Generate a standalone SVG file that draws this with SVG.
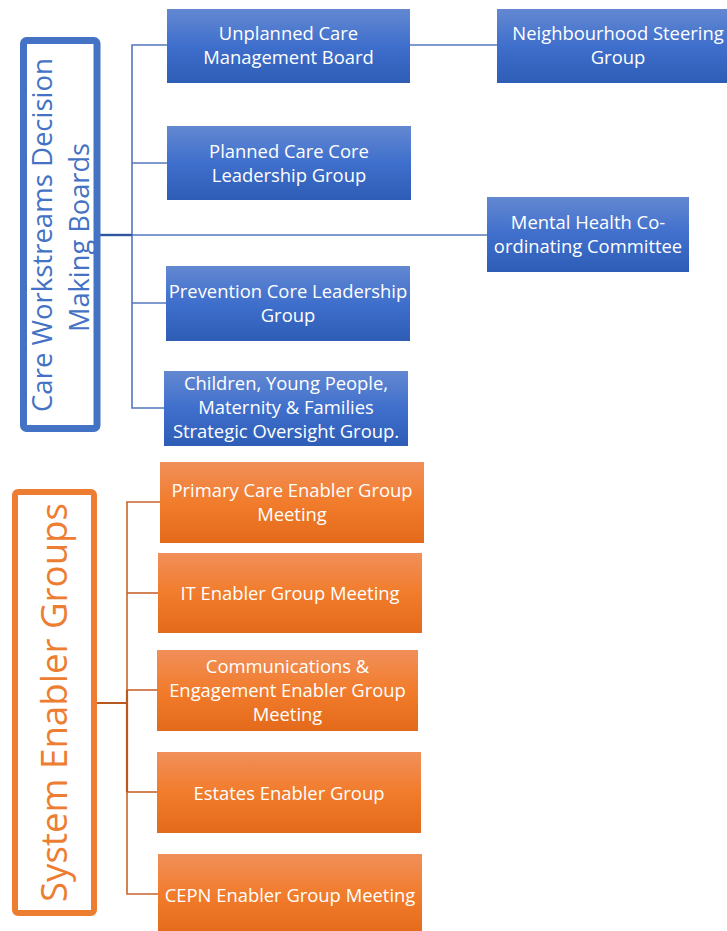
<svg xmlns="http://www.w3.org/2000/svg" width="727" height="931" viewBox="0 0 727 931">
<defs>
<linearGradient id="gb" x1="0" y1="0" x2="0" y2="1">
<stop offset="0" stop-color="#6388d1"/>
<stop offset="0.5" stop-color="#3f6fcc"/>
<stop offset="1" stop-color="#2e5db6"/>
</linearGradient>
<linearGradient id="go" x1="0" y1="0" x2="0" y2="1">
<stop offset="0" stop-color="#f18f5a"/>
<stop offset="0.5" stop-color="#f17c2c"/>
<stop offset="1" stop-color="#e46a1b"/>
</linearGradient>
<style>
.bb{fill:url(#gb);}
.ob{fill:url(#go);}
.t{font-family:"Open Sans","Noto Sans","DejaVu Sans",sans-serif;font-size:18.4px;fill:#ffffff;text-anchor:middle;}
.bl{fill:none;stroke:#5477bf;stroke-width:1.6;}
.ol{fill:none;stroke:#c8652b;stroke-width:1.6;}
.big{font-family:"Open Sans","Noto Sans","DejaVu Sans",sans-serif;text-anchor:middle;}
</style>
</defs>
<rect width="727" height="931" fill="#ffffff"/>

<g id="connectors">
<path class="bl" d="M100 235 H487"/>
<path class="bl" d="M132 235 V45 H167"/>
<path class="bl" d="M132 163 H167"/>
<path class="bl" d="M132 235 V408 H164"/>
<path class="bl" d="M132 303 H166"/>
<path class="bl" d="M410 45 H497"/>
<path d="M100 235 H132" fill="none" stroke="#2f55a0" stroke-width="2.4"/>
<path class="ol" d="M97 703 H127"/>
<path class="ol" d="M127 703 V502 H160"/>
<path class="ol" d="M127 593 H158"/>
<path class="ol" d="M127 690 H157"/>
<path class="ol" d="M127 703 V894 H158"/>
<path class="ol" d="M127 792 H157"/>
<path d="M97 703 H127 M127 690 V792" fill="none" stroke="#b85a20" stroke-width="2.2"/>
</g>

<g id="care-workstreams">
<rect x="23.5" y="40.5" width="73.5" height="388" rx="3" fill="#ffffff" stroke="#4472c4" stroke-width="7"/>
<text class="big" transform="translate(52,235) rotate(-90)" font-size="28" fill="#4472c4" textLength="354" lengthAdjust="spacingAndGlyphs">Care Workstreams Decision</text>
<text class="big" transform="translate(89,237.5) rotate(-90)" font-size="28" fill="#4472c4" textLength="189" lengthAdjust="spacingAndGlyphs">Making Boards</text>
</g>

<g id="unplanned-care">
<rect class="bb" x="167" y="9" width="243" height="74"/>
<text class="t" x="288.5" y="40">Unplanned Care</text>
<text class="t" x="288.5" y="64">Management Board</text>
</g>

<g id="neighbourhood">
<rect class="bb" x="497" y="9" width="243" height="74"/>
<text class="t" x="618" y="40">Neighbourhood Steering</text>
<text class="t" x="618" y="64">Group</text>
</g>

<g id="planned-care">
<rect class="bb" x="167" y="126" width="244" height="74"/>
<text class="t" x="289" y="157.5">Planned Care Core</text>
<text class="t" x="289" y="181.5">Leadership Group</text>
</g>

<g id="mental-health">
<rect class="bb" x="487" y="197" width="202" height="75"/>
<text class="t" x="588" y="229">Mental Health Co-</text>
<text class="t" x="588" y="253">ordinating Committee</text>
</g>

<g id="prevention">
<rect class="bb" x="166" y="266" width="244" height="75"/>
<text class="t" x="288" y="298">Prevention Core Leadership</text>
<text class="t" x="288" y="322">Group</text>
</g>

<g id="children">
<rect class="bb" x="164" y="371" width="244" height="75"/>
<text class="t" x="286" y="390">Children, Young People,</text>
<text class="t" x="286" y="414">Maternity &amp; Families</text>
<text class="t" x="286" y="437.5">Strategic Oversight Group.</text>
</g>

<g id="system-enabler">
<rect x="15" y="492" width="79" height="421" rx="3" fill="#ffffff" stroke="#ed7d31" stroke-width="6"/>
<text class="big" transform="translate(67,702.5) rotate(-90)" font-size="37" fill="#ed7d31" textLength="399" lengthAdjust="spacingAndGlyphs">System Enabler Groups</text>
</g>

<g id="primary-care">
<rect class="ob" x="160" y="462" width="264" height="81"/>
<text class="t" x="292" y="497">Primary Care Enabler Group</text>
<text class="t" x="292" y="521">Meeting</text>
</g>

<g id="it-enabler">
<rect class="ob" x="158" y="553" width="264" height="80"/>
<text class="t" x="290" y="599.5">IT Enabler Group Meeting</text>
</g>

<g id="communications">
<rect class="ob" x="157" y="650" width="261" height="81"/>
<text class="t" x="287.5" y="673">Communications &amp;</text>
<text class="t" x="287.5" y="697">Engagement Enabler Group</text>
<text class="t" x="287.5" y="720.5">Meeting</text>
</g>

<g id="estates">
<rect class="ob" x="157" y="752" width="264" height="81"/>
<text class="t" x="289" y="799.5">Estates Enabler Group</text>
</g>

<g id="cepn">
<rect class="ob" x="158" y="854" width="264" height="81"/>
<text class="t" x="290" y="901.5">CEPN Enabler Group Meeting</text>
</g>
</svg>
